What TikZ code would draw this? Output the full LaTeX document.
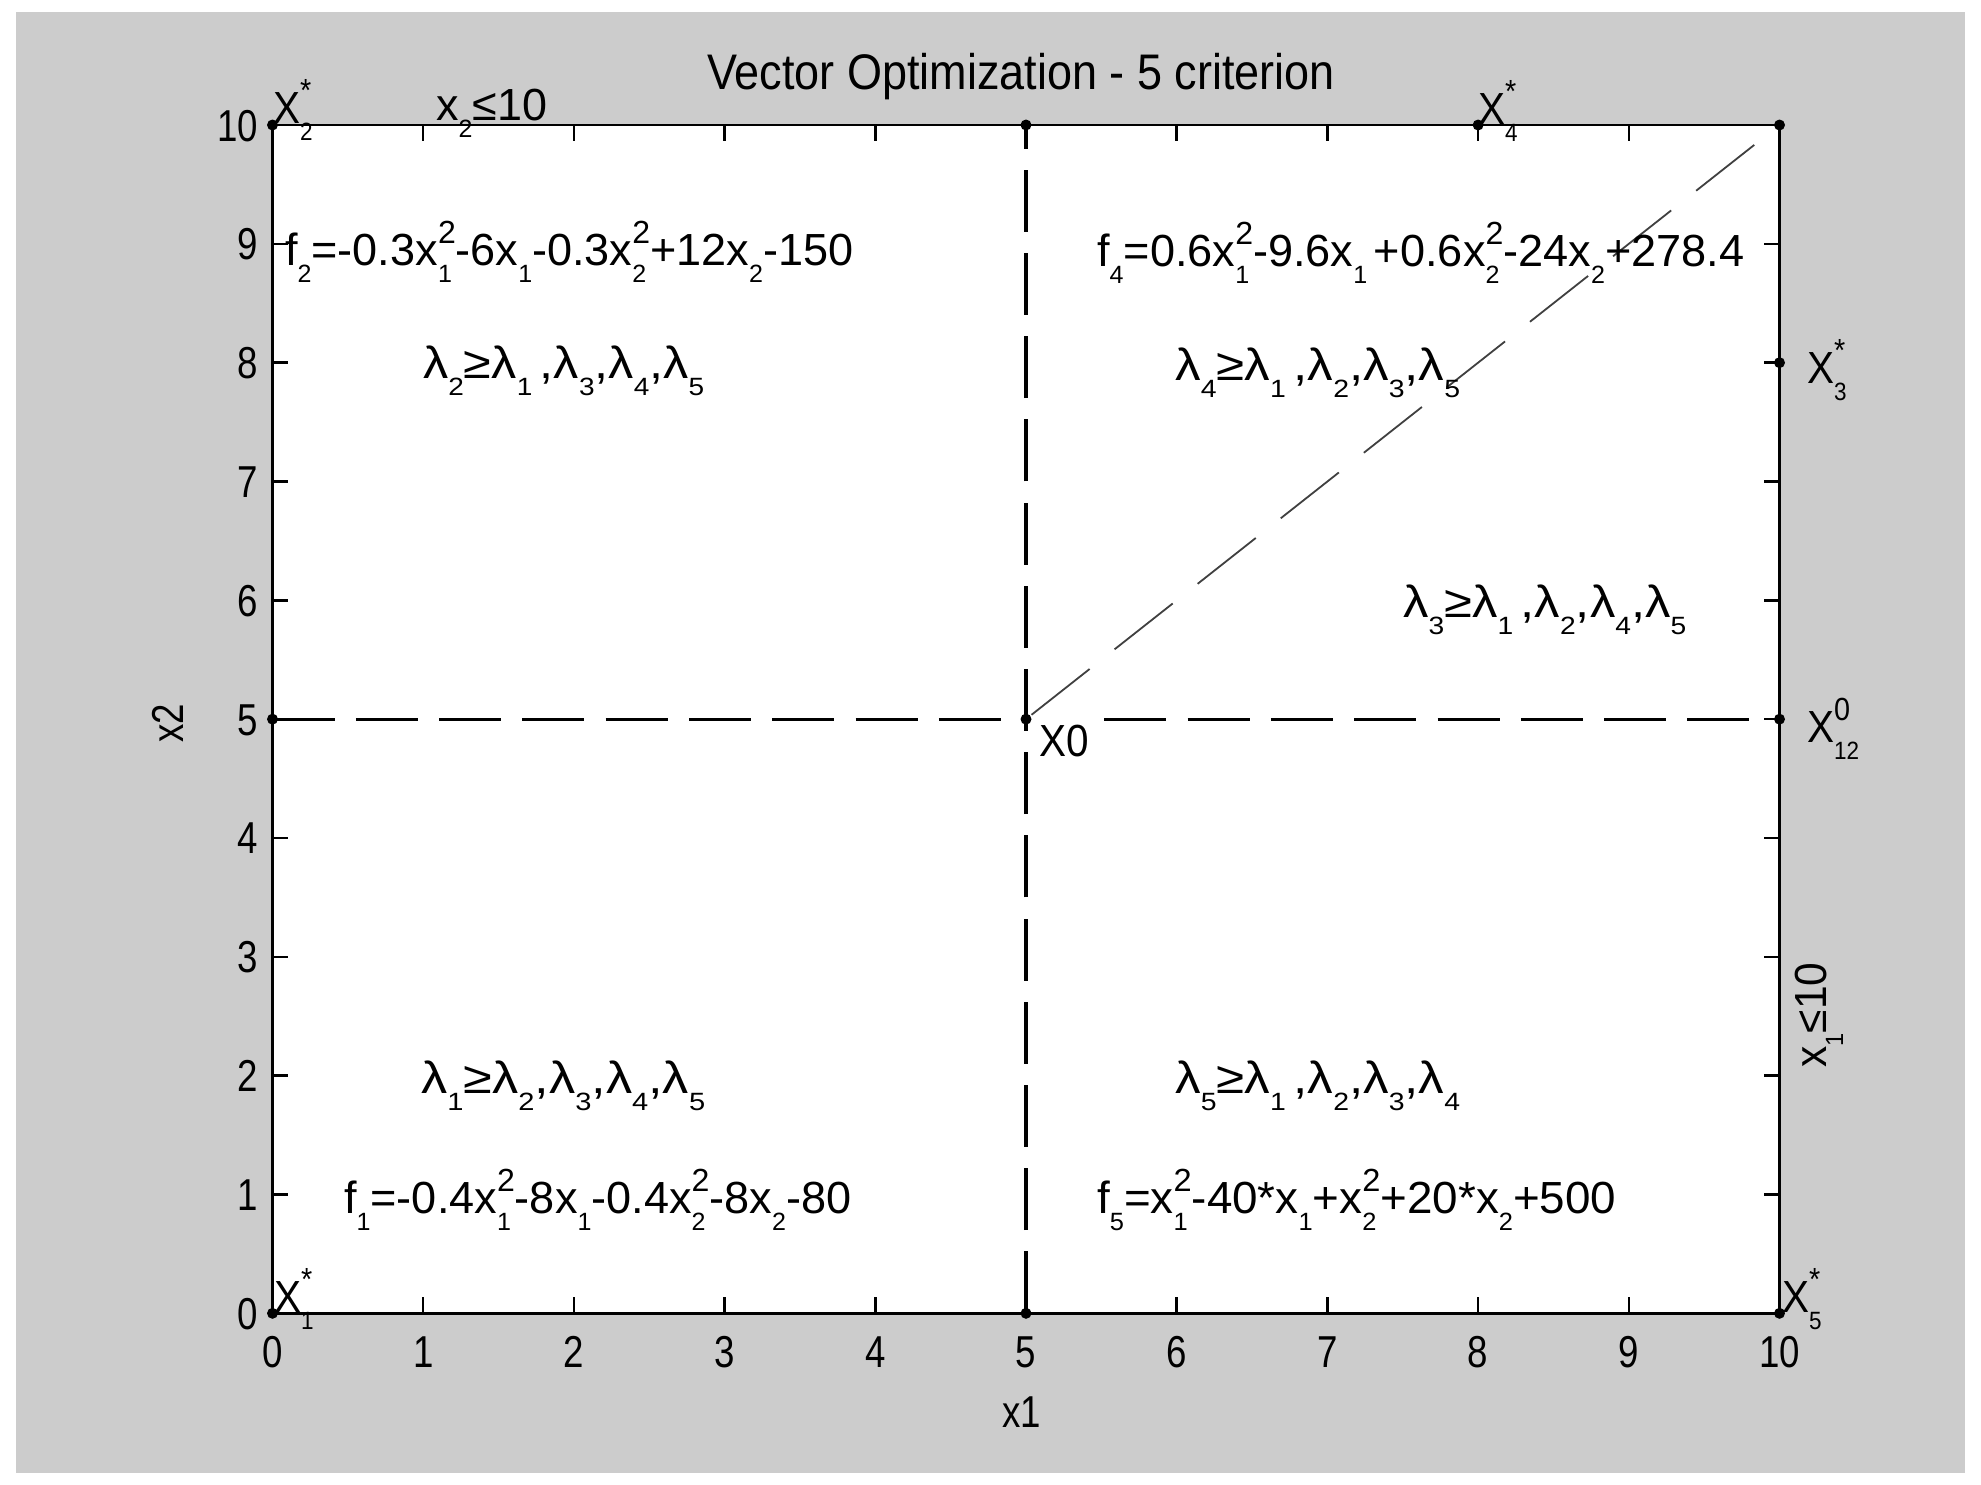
\documentclass[tikz,border=0pt]{standalone}
\usepackage{graphicx}
\usepackage{fontspec}
\setmainfont{Liberation Sans}
\newfontfamily\axfont{Liberation Sans}[FakeStretch=0.82]
\newfontfamily\ttlfont{Liberation Sans}[FakeStretch=0.9]
\newfontfamily\anfont{Liberation Sans}[FakeStretch=0.9]
\definecolor{figgray}{HTML}{CCCCCC}
\newcommand\lsup[1]{\raisebox{22pt}{\fontsize{32}{32}\selectfont #1}}
\newcommand\lsub[1]{\raisebox{-17pt}{\fontsize{25}{25}\selectfont #1}}
\newcommand\lss[2]{\setbox0=\hbox{\lsup{#1}}\setbox2=\hbox{\lsub{#2}}\ifdim\wd0>\wd2 \rlap{\box2}\box0 \else\rlap{\box0}\box2 \fi}
\newcommand\fitw[2]{\resizebox{#1pt}{\height}{#2}}
\tikzset{
  ann/.style={anchor=base west, inner sep=0pt, font=\anfont\fontsize{45}{50}\selectfont},
  ticklab/.style={inner sep=0pt, font=\axfont\fontsize{44.7}{50}\selectfont},
  axl/.style={line width=2.5pt, black},
  dl/.style={line width=3.2pt, black},
  diag/.style={line width=1.8pt, black!75},
  mdot/.style={fill=black}
}
\begin{document}
\begin{tikzpicture}[x=1pt,y=-1pt]
\useasboundingbox (0,0) rectangle (1981,1484);
\fill[white] (0,0) rectangle (1981,1484);
\fill[figgray] (16,12) rectangle (1965,1472.5);

\begin{scope}[shift={(272.5,1313.3)}, x=150.7pt, y=118.83pt]
  \fill[white] (0,0) rectangle (10,10);
  \coordinate (P00) at (0,0);
  \coordinate (P50) at (5,0);
  \coordinate (P100) at (10,0);
  \coordinate (P05) at (0,5);
  \coordinate (P55) at (5,5);
  \coordinate (P105) at (10,5);
  \coordinate (P108) at (10,8);
  \coordinate (P010) at (0,10);
  \coordinate (P510) at (5,10);
  \coordinate (P810) at (8,10);
  \coordinate (P1010) at (10,10);
  % dashed lines
  \draw[dl, dash pattern=on 62pt off 21.3pt] (P05) -- (P55);
  \draw[dl, dash pattern=on 0pt off 78.3pt on 62pt off 21.3pt on 62pt off 21.3pt on 62pt off 21.3pt on 62pt off 21.3pt on 62pt off 21.3pt on 62pt off 21.3pt on 62pt off 21.3pt on 62pt off 21.3pt] (P55) -- (P105);
  \draw[dl, dash pattern=on 62pt off 21.2pt] (P50) -- (P510);
  \draw[diag, dash pattern=on 74pt off 31.8pt, dash phase=98.8pt] (P55) -- (P1010);
  % ticks
  \foreach \i in {1,...,9}{
    \draw[axl] (\i,0) -- ++(0,0.1346);
    \draw[axl] (\i,10) -- ++(0,-0.1346);
    \draw[axl] (0,\i) -- ++(0.106,0);
    \draw[axl] (10,\i) -- ++(-0.106,0);
  }
  \draw[axl] (P00) rectangle (P1010);
  \foreach \p in {P00,P50,P100,P05,P55,P105,P108,P010,P510,P810,P1010}{
    \fill[mdot] (\p) circle (5.5pt);
  }
\end{scope}

% tick labels
\foreach \i in {0,...,10}{
  \node[ticklab, anchor=base] (xt\i) at ({272.5+150.7*\i},1367) {\i};
  \node[ticklab, anchor=base east] (yt\i) at (258,{1313.3-118.83*\i+16}) {\i};
}
\node[ticklab, anchor=base] (xlab) at (1022,1427) {x1};
\node[ticklab, anchor=base, rotate=90] (ylab) at (183,723) {x2};
\node[anchor=base, inner sep=0pt, font=\ttlfont\fontsize{50}{56}\selectfont] (title) at (1021,89) {Vector Optimization - 5 criterion};

% annotations
\node[ann] (f2) at (285,265) {\fitw{568}{f\lsub{2}=-0.3x\lss{2}{1}-6x\lsub{1}-0.3x\lss{2}{2}+12x\lsub{2}-150}};
\node[ann] (l2) at (423,378) {\fitw{281}{λ\lsub{2}≥λ\lsub{1}\kern6pt,λ\lsub{3},λ\lsub{4},λ\lsub{5}}};
\node[ann] (f4) at (1097,266.5) {\fitw{647}{f\lsub{4}=0.6x\lss{2}{1}-9.6x\lsub{1}\kern6pt+0.6x\lss{2}{2}-24x\lsub{2}+278.4}};
\node[ann] (l4) at (1175,380) {\fitw{285}{λ\lsub{4}≥λ\lsub{1}\kern6pt,λ\lsub{2},λ\lsub{3},λ\lsub{5}}};
\node[ann] (l3) at (1403,617) {\fitw{283}{λ\lsub{3}≥λ\lsub{1}\kern6pt,λ\lsub{2},λ\lsub{4},λ\lsub{5}}};
\node[ann] (l1) at (421,1093) {\fitw{284}{λ\lsub{1}≥λ\lsub{2},λ\lsub{3},λ\lsub{4},λ\lsub{5}}};
\node[ann] (l5) at (1175,1093) {\fitw{285}{λ\lsub{5}≥λ\lsub{1}\kern6pt,λ\lsub{2},λ\lsub{3},λ\lsub{4}}};
\node[ann] (f1) at (344,1213) {\fitw{507}{f\lsub{1}=-0.4x\lss{2}{1}-8x\lsub{1}-0.4x\lss{2}{2}-8x\lsub{2}-80}};
\node[ann] (f5) at (1097,1213) {\fitw{519}{f\lsub{5}=x\lss{2}{1}-40*x\lsub{1}+x\lss{2}{2}+20*x\lsub{2}+500}};
\node[ann] (X2) at (273,123) {X\lss{*}{2}};
\node[ann] (c2) at (436,120) {\fitw{111}{x\lsub{2}≤10}};
\node[ann] (X4) at (1478,124) {X\lss{*}{4}};
\node[ann] (X3) at (1807,383) {X\lss{*}{3}};
\node[ann] (X12) at (1807,742) {X\lss{0}{12}};
\node[ann] (Xo) at (1039,756) {X0};
\node[ann, anchor=base, rotate=90] (c1) at (1826,1015) {\fitw{105}{x\lsub{1}≤10}};
\node[ann] (X1) at (274,1312) {X\lss{*}{1}};
\node[ann] (X5) at (1782,1312) {X\lss{*}{5}};
\end{tikzpicture}
\end{document}
